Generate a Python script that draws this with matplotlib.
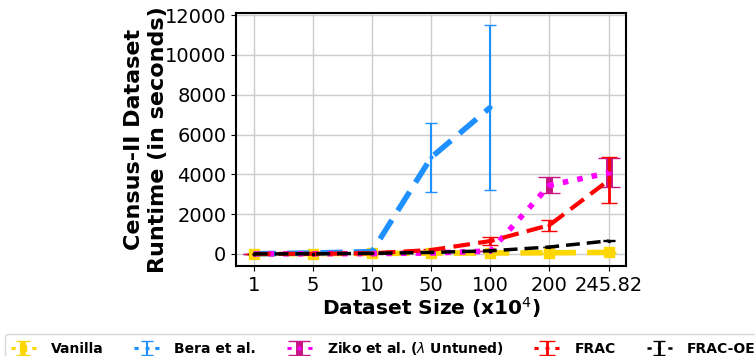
import matplotlib
matplotlib.use("Agg")
import matplotlib.pyplot as plt
from matplotlib.lines import Line2D
import numpy as np

sizes = ["1", "5", "10", "50", "100", "200", "245.82"]
x = np.arange(len(sizes))

vanilla = [10, 20, 30, 40, 50, 60, 80]
vanilla_err = [5, 5, 5, 10, 10, 10, 10]

bera_x = [0, 1, 2, 3, 4]
bera = [10, 50, 120, 4850, 7370]
bera_err = [5, 10, 20, 1750, 4130]

ziko = [5, 10, 20, 50, 150, 3450, 4080]
ziko_err = [5, 5, 5, 10, 20, 400, 730]

frac = [5, 10, 40, 200, 650, 1450, 3700]
frac_err = [5, 5, 10, 30, 200, 280, 1150]

fracoe = [5, 10, 30, 80, 160, 350, 660]
fracoe_err = [2, 2, 5, 10, 10, 15, 20]

fig = plt.figure(figsize=(7.55, 3.56), dpi=100)
ax = fig.add_axes([0.3126, 0.253, 0.517, 0.71])

ax.errorbar(x, vanilla, yerr=vanilla_err, color="#FFD700", ls="--", lw=4, marker="s",
            ms=7, capsize=5, label="Vanilla", dashes=(4, 2))
ax.errorbar(bera_x, bera, yerr=bera_err, color="#1E90FF", ls="--", lw=4, marker=".",
            ms=4, capsize=4, elinewidth=1.5, label="Bera et al.", dashes=(4, 2))
ax.errorbar(x, ziko, yerr=ziko_err, color="#FF00FF", ls=":", lw=4, marker=".",
            ms=4, capsize=8, elinewidth=5, ecolor="#C71585", label=r"Ziko et al. ($\lambda$ Untuned)")
ax.errorbar(x, frac, yerr=frac_err, color="#FF0000", ls="--", lw=3, marker=".",
            ms=4, capsize=6, elinewidth=2, label="FRAC", dashes=(4, 2))
ax.errorbar(x, fracoe, yerr=fracoe_err, color="black", ls="--", lw=2.5, marker=".",
            ms=3, capsize=4, elinewidth=2, label="FRAC-OE", dashes=(4, 2))

ax.set_xticks(x)
ax.set_xticklabels(sizes, fontsize=14)
ax.set_yticks([0, 2000, 4000, 6000, 8000, 10000, 12000])
ax.tick_params(axis="y", labelsize=14)
ax.set_ylim(-600, 12100)
ax.grid(True, color="#cccccc", lw=1)
for s in ax.spines.values():
    s.set_linewidth(1.5)
ax.set_xlabel(r"Dataset Size (x10$^4$)", fontsize=14.5, fontweight="bold", labelpad=0)
ax.set_ylabel("Census-II Dataset\nRuntime (in seconds)", fontsize=16, fontweight="bold",
              labelpad=-2)

leg = fig.legend(loc="upper left", bbox_to_anchor=(5 / 755, 1 - 334 / 356), ncol=5,
                 prop={"weight": "bold", "size": 10}, columnspacing=2.2, handlelength=1.8,
                 handletextpad=1.1, borderaxespad=0)

for ln in leg.findobj(Line2D):
    if ln.get_linestyle() not in ("None", "", " "):
        lw = 2.2 if ln.get_color() != "black" else 1.8
        ln.set_linewidth(lw)
        ln.set_linestyle((0, (3.0 / lw, 12.0 / lw)))
    elif ln.get_marker() == "s":
        ln.set_markersize(4)

fig.savefig("out.png", dpi=100)
